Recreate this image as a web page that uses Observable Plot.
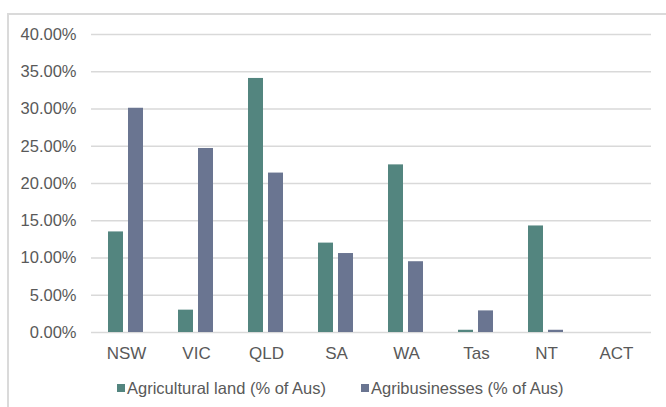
<!DOCTYPE html>
<html>
<head>
<meta charset="utf-8">
<script src="https://cdn.jsdelivr.net/npm/d3@7"></script>
<script src="https://cdn.jsdelivr.net/npm/@observablehq/plot@0.6"></script>
<style>
  body { margin: 0; width: 666px; height: 407px; overflow: hidden; background: #fff; position: relative;
         font-family: "Liberation Sans", Arial, sans-serif; }
  #frame { position: absolute; left: 7px; top: 13px; width: 720px; height: 440px;
           border-top: 2px solid #dadada; border-left: 2px solid #dadada; }
  #chart { position: absolute; left: 0; top: 0; }
  #legend { position: absolute; left: 117px; top: 380px; display: flex; gap: 35px;
            font-size: 16.5px; line-height: 16px; color: #595959; white-space: nowrap; }
  .item { display: flex; align-items: flex-start; }
  .swatch { width: 8px; height: 8px; margin-top: 4px; margin-right: 2px; }
</style>
</head>
<body>
<div id="frame"></div>
<div id="chart"></div>
<div id="legend"></div>
<script>
// Share of Australia's total, by state/territory
const states = ["NSW", "VIC", "QLD", "SA", "WA", "Tas", "NT", "ACT"];
const agriculturalLand = [13.5, 3.0, 34.1, 12.0, 22.5, 0.3, 14.3, 0];
const agribusinesses = [30.1, 24.7, 21.4, 10.6, 9.5, 2.9, 0.3, 0];
const seriesNames = ["Agricultural land (% of Aus)", "Agribusinesses (% of Aus)"];
const seriesColors = ["#53857f", "#6a7591"];
const yTicks = [0, 5, 10, 15, 20, 25, 30, 35, 40];

const rows = states.flatMap((state, i) => [
  {state, series: seriesNames[0], value: agriculturalLand[i]},
  {state, series: seriesNames[1], value: agribusinesses[i]}
]);

const chart = Plot.plot({
  width: 666,
  height: 372,
  marginLeft: 90,
  marginRight: 15,
  marginTop: 34,
  marginBottom: 40,
  style: {fontSize: "16.5px", fontFamily: "'Liberation Sans', Arial, sans-serif", color: "#595959", background: "transparent"},
  fx: {domain: states, padding: 0},
  x: {domain: seriesNames, paddingInner: 0.244, paddingOuter: 0.832, axis: null},
  y: {domain: [0, 40]},
  color: {domain: seriesNames, range: seriesColors},
  marks: [
    Plot.gridY(yTicks, {stroke: "#d9d9d9", strokeOpacity: 1, strokeWidth: 1.3}),
    Plot.barY(rows, {fx: "state", x: "series", y: "value", fill: "series"}),
    Plot.axisY(yTicks, {tickFormat: d => d.toFixed(2) + "%", tickSize: 0, tickPadding: 15, label: null}),
    Plot.axisFx({anchor: "bottom", tickSize: 0, tickPadding: 14, label: null, fontSize: 17})
  ]
});
document.getElementById("chart").append(chart);

const legend = document.getElementById("legend");
seriesNames.forEach((name, i) => {
  const item = document.createElement("div");
  item.className = "item";
  const sw = document.createElement("span");
  sw.className = "swatch";
  sw.style.background = seriesColors[i];
  const label = document.createElement("span");
  label.textContent = name;
  item.append(sw, label);
  legend.append(item);
});
</script>
</body>
</html>
